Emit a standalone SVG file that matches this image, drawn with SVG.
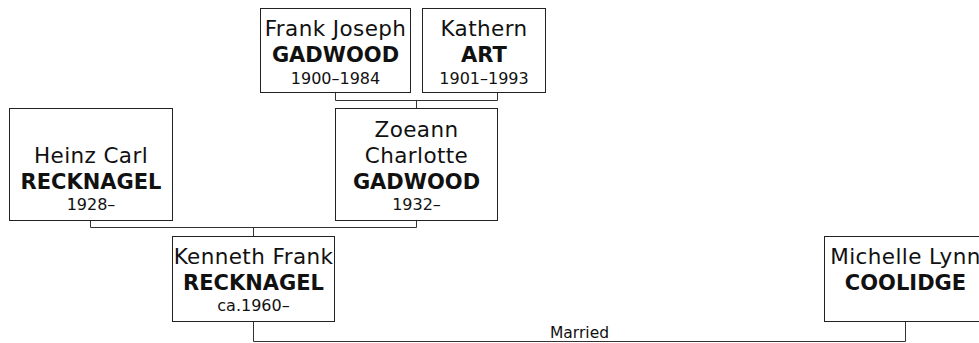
<svg xmlns="http://www.w3.org/2000/svg" width="979" height="343" viewBox="0 0 979 343">
<style>
.box{fill:#fff;stroke:#222;stroke-width:1}
.ln{fill:none;stroke:#333;stroke-width:1}
text{font-family:"DejaVu Sans",Verdana,sans-serif;fill:#111;text-anchor:middle}
.n{font-size:21.5px;letter-spacing:0.4px}
.s{font-size:21px;font-weight:bold}
.d{font-size:16px}
.m{font-size:15.5px}
</style>
<rect width="979" height="343" fill="#fff"/>
<g id="connectors">
<path class="ln" d="M335.5,92.5V100.5H497.5V92.5M416.5,100.5V108.5"/>
<path class="ln" d="M90.5,220.5V227.5H416.5V220.5M253.5,227.5V236.5"/>
<path class="ln" d="M253.5,321.5V341.5H905.5V321.5"/>
<text class="m" x="579.5" y="338">Married</text>
</g>
<g id="frank">
<rect class="box" x="260.5" y="8.5" width="150" height="84"/>
<text class="n" x="335.5" y="36">Frank Joseph</text>
<text class="s" x="335.5" y="62">GADWOOD</text>
<text class="d" x="335.5" y="84">1900–1984</text>
</g>
<g id="kathern">
<rect class="box" x="422.5" y="8.5" width="123" height="84"/>
<text class="n" x="484" y="36">Kathern</text>
<text class="s" x="484" y="62">ART</text>
<text class="d" x="484" y="84">1901–1993</text>
</g>
<g id="heinz">
<rect class="box" x="9.5" y="108.5" width="163" height="112"/>
<text class="n" x="91" y="163">Heinz Carl</text>
<text class="s" x="91" y="189">RECKNAGEL</text>
<text class="d" x="91" y="210">1928–</text>
</g>
<g id="zoeann">
<rect class="box" x="335.5" y="108.5" width="162" height="112"/>
<text class="n" x="416.5" y="137">Zoeann</text>
<text class="n" x="416.5" y="163">Charlotte</text>
<text class="s" x="416.5" y="189">GADWOOD</text>
<text class="d" x="416.5" y="210">1932–</text>
</g>
<g id="kenneth">
<rect class="box" x="172.5" y="236.5" width="162" height="85"/>
<text class="n" x="253.5" y="264">Kenneth Frank</text>
<text class="s" x="253.5" y="290">RECKNAGEL</text>
<text class="d" x="253.5" y="311">ca.1960–</text>
</g>
<g id="michelle">
<rect class="box" x="824.5" y="236.5" width="162" height="85"/>
<text class="n" x="905.5" y="264">Michelle Lynn</text>
<text class="s" x="905.5" y="290">COOLIDGE</text>
</g>
</svg>
